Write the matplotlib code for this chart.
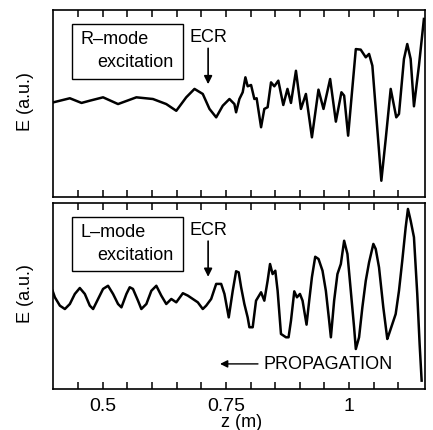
import numpy as np
import matplotlib
matplotlib.use("Agg")
import matplotlib.pyplot as plt
from matplotlib.patches import Rectangle

plt.rcParams['font.family'] = ['Liberation Sans', 'DejaVu Sans']

# R-mode excitation, field amplitude along z
z_r = [0.3994, 0.4332, 0.4569, 0.4737, 0.5006, 0.5310, 0.5682, 0.6018, 0.6289, 0.6492,
       0.6694, 0.6862, 0.7030, 0.7166, 0.7302, 0.7435, 0.7571, 0.7672, 0.7706, 0.7773,
       0.7840, 0.7895, 0.7941, 0.8010, 0.8077, 0.8123, 0.8213, 0.8279, 0.8346, 0.8415,
       0.8482, 0.8563, 0.8664, 0.8749, 0.8820, 0.8921, 0.9022, 0.9123, 0.9245, 0.9378,
       0.9480, 0.9615, 0.9731, 0.9844, 0.9899, 0.9980, 1.0136, 1.0235, 1.0338, 1.0405,
       1.0472, 1.0654, 1.0743, 1.0844, 1.0957, 1.1012, 1.1113, 1.1180, 1.1249, 1.1316,
       1.1417, 1.1518]
e_r = [0.506, 0.528, 0.503, 0.515, 0.533, 0.497, 0.533, 0.524, 0.497, 0.461,
       0.533, 0.578, 0.551, 0.471, 0.426, 0.488, 0.524, 0.497, 0.453, 0.524,
       0.560, 0.640, 0.592, 0.599, 0.524, 0.528, 0.373, 0.471, 0.480, 0.613,
       0.592, 0.622, 0.492, 0.578, 0.503, 0.675, 0.471, 0.551, 0.319, 0.574,
       0.471, 0.631, 0.403, 0.560, 0.542, 0.328, 0.791, 0.788, 0.747, 0.765,
       0.702, 0.087, 0.310, 0.578, 0.426, 0.444, 0.738, 0.818, 0.738, 0.485,
       0.702, 0.952]

# L-mode excitation
z_l = [0.3982, 0.4028, 0.4130, 0.4231, 0.4332, 0.4433, 0.4534, 0.4636, 0.4737, 0.4804,
       0.4905, 0.5006, 0.5107, 0.5209, 0.5310, 0.5379, 0.5480, 0.5547, 0.5613, 0.5715,
       0.5783, 0.5885, 0.5986, 0.6087, 0.6188, 0.6289, 0.6391, 0.6492, 0.6626, 0.6727,
       0.6828, 0.6929, 0.7030, 0.7099, 0.7200, 0.7302, 0.7403, 0.7470, 0.7557, 0.7638,
       0.7706, 0.7759, 0.7808, 0.7874, 0.7941, 0.7976, 0.8043, 0.8111, 0.8213, 0.8279,
       0.8346, 0.8395, 0.8447, 0.8502, 0.8549, 0.8617, 0.8719, 0.8771, 0.8820, 0.8887,
       0.8941, 0.9002, 0.9055, 0.9136, 0.9190, 0.9245, 0.9312, 0.9379, 0.9460, 0.9528,
       0.9595, 0.9630, 0.9696, 0.9763, 0.9832, 0.9899, 0.9966, 1.0034, 1.0101, 1.0136,
       1.0202, 1.0269, 1.0338, 1.0405, 1.0492, 1.0540, 1.0607, 1.0694, 1.0775, 1.0810,
       1.0877, 1.0945, 1.1012, 1.1079, 1.1148, 1.1194, 1.1249, 1.1316, 1.1383, 1.1431,
       1.1472]
e_l = [0.528, 0.493, 0.448, 0.430, 0.457, 0.511, 0.543, 0.511, 0.448, 0.430,
       0.484, 0.538, 0.555, 0.511, 0.457, 0.439, 0.511, 0.547, 0.538, 0.475,
       0.430, 0.457, 0.528, 0.555, 0.502, 0.457, 0.484, 0.466, 0.515, 0.502,
       0.484, 0.466, 0.430, 0.448, 0.484, 0.565, 0.565, 0.511, 0.385, 0.528,
       0.633, 0.627, 0.547, 0.457, 0.385, 0.332, 0.332, 0.475, 0.520, 0.475,
       0.582, 0.672, 0.618, 0.636, 0.528, 0.296, 0.278, 0.278, 0.367, 0.525,
       0.493, 0.511, 0.475, 0.346, 0.475, 0.601, 0.711, 0.699, 0.636, 0.528,
       0.367, 0.278, 0.475, 0.618, 0.672, 0.797, 0.726, 0.528, 0.332, 0.215,
       0.278, 0.439, 0.582, 0.681, 0.780, 0.753, 0.654, 0.439, 0.269, 0.296,
       0.349, 0.403, 0.528, 0.690, 0.869, 0.968, 0.905, 0.816, 0.511, 0.242,
       0.045]

xticks = np.round(np.arange(0.45, 1.101, 0.05), 2)
xlabels = {0.5: '0.5', 0.75: '0.75', 1.0: '1'}

fig = plt.figure(figsize=(4.33, 4.31), dpi=100)
ax1 = fig.add_axes([0.1224, 0.5406, 0.8591, 0.4339])
ax2 = fig.add_axes([0.1224, 0.0951, 0.8591, 0.4316])

panels = [(ax1, z_r, e_r, 'R\u2013mode'), (ax2, z_l, e_l, 'L\u2013mode')]
for ax, z, e, mode in panels:
    ax.plot(z, e, color='black', lw=1.8, solid_joinstyle='round')
    ax.set_xlim(0.399, 1.154)
    ax.set_ylim(0, 1)
    ax.set_yticks([])
    ax.set_xticks(xticks)
    ax.tick_params(axis='x', direction='in', top=True, length=5, width=1.1,
                   labelsize=14, pad=6)
    for s in ax.spines.values():
        s.set_linewidth(1.2)
    ax.add_patch(Rectangle((0.051, 0.632), 0.298, 0.293, transform=ax.transAxes,
                           fill=False, lw=1.0, color='black'))
    ax.text(0.075, 0.845, mode, transform=ax.transAxes, fontsize=13, va='center')
    ax.text(0.118, 0.724, 'excitation', transform=ax.transAxes, fontsize=13, va='center')
    ax.text(0.419, 0.858, 'ECR', transform=ax.transAxes, fontsize=13,
            ha='center', va='center')
    ax.annotate('', xy=(0.417, 0.603), xytext=(0.417, 0.795), xycoords='axes fraction',
                arrowprops=dict(arrowstyle='-|>', color='black', lw=1.2,
                                mutation_scale=12, shrinkA=0, shrinkB=0))

ax1.set_xticklabels([])
ax2.set_xticklabels([xlabels.get(t, '') for t in xticks])

ax2.annotate('', xy=(0.449, 0.135), xytext=(0.551, 0.135), xycoords='axes fraction',
             arrowprops=dict(arrowstyle='-|>', color='black', lw=1.0,
                             mutation_scale=11, shrinkA=0, shrinkB=0))
ax2.text(0.565, 0.135, 'PROPAGATION', transform=ax2.transAxes, fontsize=13, va='center')

fig.text(0.558, 0.019, 'z (m)', fontsize=13, ha='center', va='center')
fig.text(0.058, 0.765, 'E (a.u.)', fontsize=13, rotation=90, ha='center', va='center')
fig.text(0.058, 0.318, 'E (a.u.)', fontsize=13, rotation=90, ha='center', va='center')

fig.savefig('out.png', dpi=100)
